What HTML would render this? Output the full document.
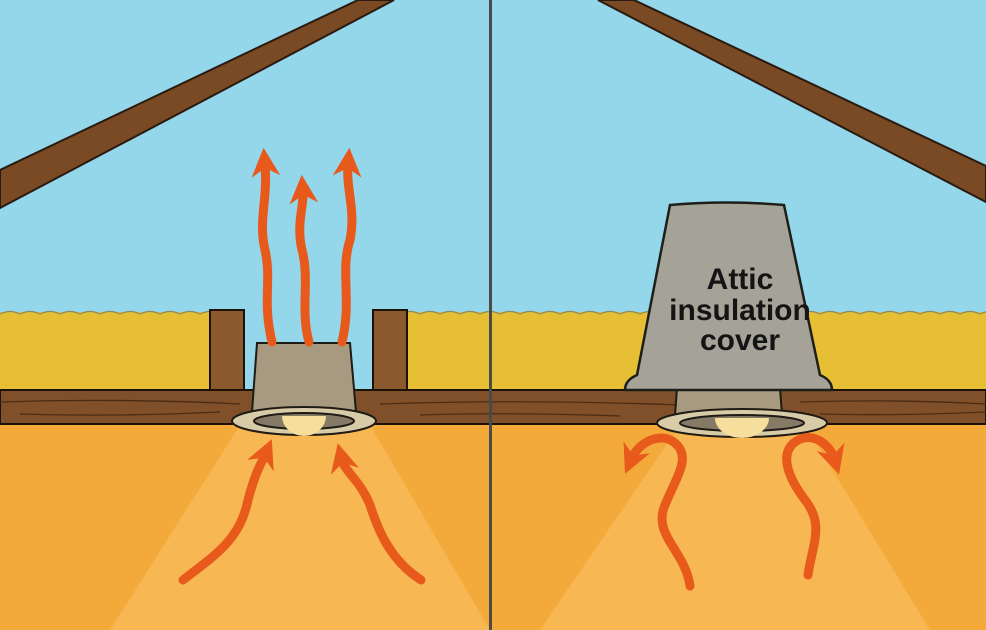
<!DOCTYPE html>
<html><head><meta charset="utf-8"><style>
html,body{margin:0;padding:0;width:986px;height:630px;overflow:hidden}
svg{display:block}
</style></head><body>
<svg width="986" height="630" viewBox="0 0 986 630" xmlns="http://www.w3.org/2000/svg">
<defs>
<marker id="ah" viewBox="0 0 10 10" refX="4" refY="5" markerWidth="3.2" markerHeight="3.2" orient="auto-start-reverse">
<path d="M0,0 L10,5 L0,10 L3,5 Z" fill="#e85a1c"/></marker>
</defs>
<rect x="0" y="0" width="986" height="630" fill="#94d7ea"/>
<!-- rafters -->
<polygon points="0,170 358,0 394,0 0,208" fill="#7a4a24" stroke="#2a1a10" stroke-width="2"/>
<polygon points="598,0 634,0 986,166 986,202" fill="#7a4a24" stroke="#2a1a10" stroke-width="2"/>
<!-- insulation -->
<rect x="0" y="312" width="986" height="78" fill="#e6bf34"/>
<path d="M0,314 q10,-5 20,0 q10,-5 20,0 q10,-5 20,0 q10,-5 20,0 q10,-5 20,0 q10,-5 20,0 q10,-5 20,0 q10,-5 20,0 q10,-5 20,0 q10,-5 20,0 q10,-5 20,0 q10,-5 20,0 q10,-5 20,0 q10,-5 20,0 q10,-5 20,0 q10,-5 20,0 q10,-5 20,0 q10,-5 20,0 q10,-5 20,0 q10,-5 20,0 q10,-5 20,0 q10,-5 20,0 q10,-5 20,0 q10,-5 20,0 q10,-5 20,0 q10,-5 20,0 q10,-5 20,0 q10,-5 20,0 q10,-5 20,0 q10,-5 20,0 q10,-5 20,0 q10,-5 20,0 q10,-5 20,0 q10,-5 20,0 q10,-5 20,0 q10,-5 20,0 q10,-5 20,0 q10,-5 20,0 q10,-5 20,0 q10,-5 20,0 q10,-5 20,0 q10,-5 20,0 q10,-5 20,0 q10,-5 20,0 q10,-5 20,0 q10,-5 20,0 q10,-5 20,0 q10,-5 20,0 q10,-5 20,0 q10,-5 20,0" fill="none" stroke="#8a8a60" stroke-width="1.2"/>
<rect x="244" y="305" width="129" height="85" fill="#94d7ea"/>
<!-- studs -->
<rect x="210" y="310" width="34" height="80" fill="#8a5a2e" stroke="#1e1208" stroke-width="2"/>
<rect x="373" y="310" width="34" height="80" fill="#8a5a2e" stroke="#1e1208" stroke-width="2"/>
<!-- ceiling -->
<rect x="0" y="424" width="986" height="206" fill="#f4a93b"/>
<polygon points="240,425 370,425 490,630 110,630" fill="#f8bd5c" opacity="0.7"/>
<polygon points="680,425 805,425 930,630 540,630" fill="#f8bd5c" opacity="0.7"/>
<!-- beam -->
<rect x="0" y="390" width="986" height="34" fill="#80502a" stroke="#1e1208" stroke-width="2"/>
<path d="M0,402 q120,-4 240,2 M380,404 q150,-5 300,1 M800,402 q100,-3 186,2 M20,414 q100,3 200,-2 M420,415 q80,-3 200,1 M820,414 q80,2 166,-2" stroke="#4a2c14" stroke-width="1.3" fill="none"/>
<!-- left fixture -->
<polygon points="257,343 350,343 356,412 252,412" fill="#a89a80" stroke="#1e1a14" stroke-width="2"/>
<ellipse cx="304" cy="421" rx="72" ry="14" fill="#d8cca8" stroke="#1e1a14" stroke-width="2"/>
<ellipse cx="304" cy="421" rx="50" ry="8" fill="#857a66" stroke="#1e1a14" stroke-width="2"/>
<path d="M282,416 a22,20 0 0 0 44,0 Z" fill="#f6df9c"/>
<!-- left arrows -->
<g fill="none" stroke="#e85a1c" stroke-width="9" stroke-linecap="round" marker-end="url(#ah)">
<path d="M272,342 C262,300 272,280 265,250 C258,220 268,200 265,165"/>
<path d="M309,342 C300,310 310,280 302,250 C296,225 304,205 303,192"/>
<path d="M342,342 C352,300 340,270 350,240 C356,210 346,190 348,165"/>
<path d="M183,580 C215,555 240,540 248,500 C256,470 262,462 265,455"/>
<path d="M421,580 C390,560 378,530 370,505 C360,480 345,472 342,460"/>
</g>
<!-- divider -->
<rect x="489" y="0" width="3" height="630" fill="#4a4a48"/>
<!-- right fixture -->
<polygon points="677,388 780,388 782,415 675,415" fill="#a89a80" stroke="#1e1a14" stroke-width="2"/>
<ellipse cx="742" cy="423" rx="85" ry="14" fill="#d8cca8" stroke="#1e1a14" stroke-width="2"/>
<ellipse cx="742" cy="423" rx="62" ry="8" fill="#857a66" stroke="#1e1a14" stroke-width="2"/>
<path d="M715,418 a27,20 0 0 0 54,0 Z" fill="#f6df9c"/>
<!-- cover -->
<path d="M670,205 Q727,200 784,205 L820,375 Q832,380 832,390 L625,390 Q625,380 637,375 Z" fill="#a5a297" stroke="#1e1e1a" stroke-width="2.5"/>
<text x="740" y="289" text-anchor="middle" font-family="Liberation Sans, sans-serif" font-weight="bold" font-size="30" fill="#141414">Attic</text>
<text x="740" y="320" text-anchor="middle" font-family="Liberation Sans, sans-serif" font-weight="bold" font-size="30" fill="#141414">insulation</text>
<text x="740" y="350" text-anchor="middle" font-family="Liberation Sans, sans-serif" font-weight="bold" font-size="30" fill="#141414">cover</text>
<!-- right arrows -->
<g fill="none" stroke="#e85a1c" stroke-width="9" stroke-linecap="round" marker-end="url(#ah)">
<path d="M690,586 C685,550 652,535 665,505 C675,480 690,460 678,446 C665,430 640,440 632,458"/>
<path d="M808,575 C812,545 825,525 805,500 C790,480 778,455 795,442 C812,430 830,445 834,458"/>
</g>
</svg>
</body></html>
